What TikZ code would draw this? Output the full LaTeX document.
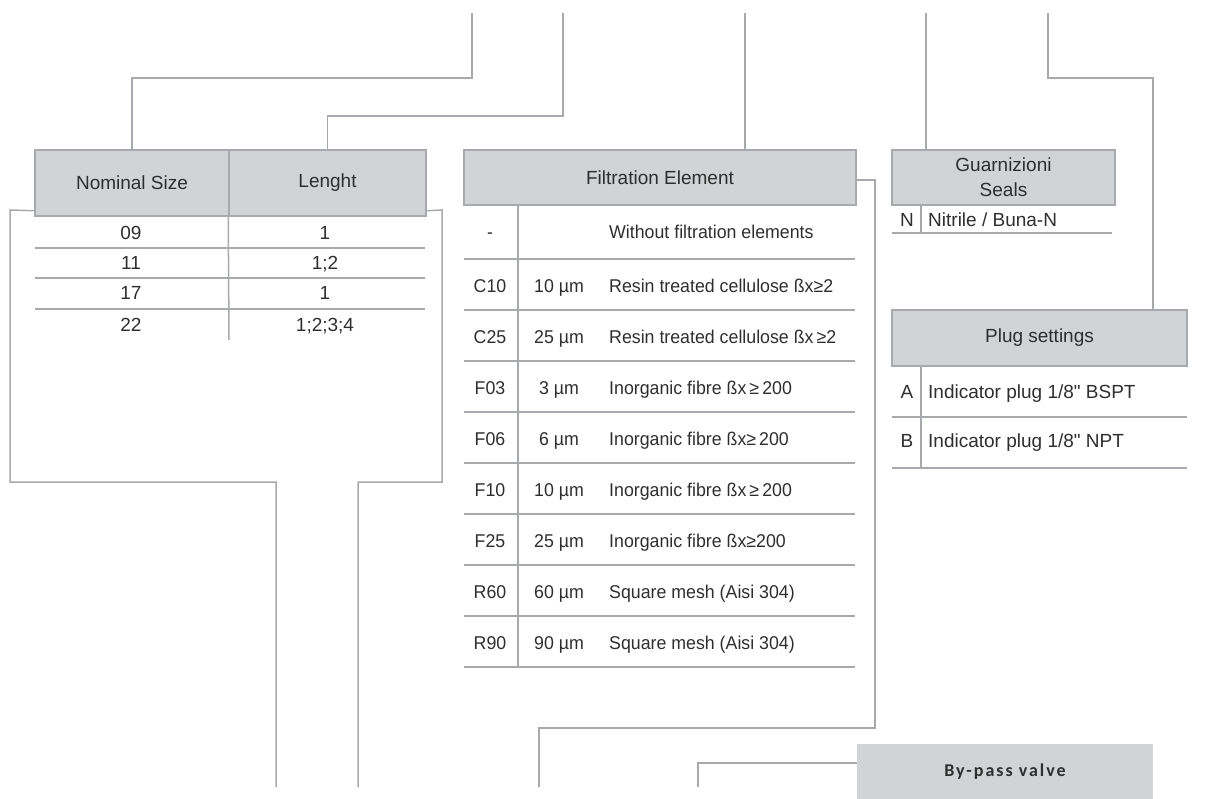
\documentclass[tikz,border=0pt]{standalone}
\usepackage{fontspec}
\setmainfont{Liberation Sans}[Ligatures=TeXOff]
\newfontfamily\rowfont{Liberation Sans}[FakeStretch=0.96,Ligatures=TeXOff]
\newfontfamily\bpfont{Carlito}[LetterSpace=11]
\definecolor{hdrfill}{HTML}{D1D3D4}
\definecolor{rulec}{HTML}{A7A9AC}
\definecolor{txt}{HTML}{2E2E2E}
\begin{document}
\begin{tikzpicture}[x=1pt,y=-1pt,
  rulel/.style={draw=rulec,line width=1.5pt},
  hdr/.style={draw=rulec,fill=hdrfill,line width=1.5pt,inner sep=0pt,text=txt,font=\fontsize{19}{25}\selectfont,align=center},
  cell/.style={inner sep=0pt,text=txt,font=\fontsize{19}{22}\selectfont,text height=13.6pt,text depth=0pt},
  fcell/.style={inner sep=0pt,text=txt,font=\rowfont\fontsize{18.5}{22}\selectfont,text height=13.3pt,text depth=0pt},
]
\useasboundingbox (0,0) rectangle (1210,799);

% ---------------- left table ----------------
\node[hdr,minimum width=194pt,minimum height=66pt] (ns) at (132,183) {Nominal Size};
\node[hdr,minimum width=197pt,minimum height=66pt] (ln) at (327.5,183) {Lenght};
\coordinate (t1) at (472,13);
\coordinate (k1) at (472,78);
\draw[rulel] (ns.north) |- (k1) -- (t1);
\coordinate (t2) at (563,13);
\coordinate (k2) at (563,116);
\draw[rulel] (ln.north) |- (k2) -- (t2);

\coordinate (b1) at (276,787);
\coordinate (c1) at (276,482);
\coordinate (b2) at (358,787);
\coordinate (c2) at (358,482);
\draw[rulel] ([yshift=6pt]ns.south west) -- (10,210) -- (10,482) -- (c1) -- (b1);
\draw[rulel] ([yshift=6pt]ln.south east) -- (442,210) -- (442,482) -- (c2) -- (b2);

\foreach \yy in {248,278,309} \draw[rulel] (35,\yy) -- (425,\yy);
\draw[rulel] (ln.south west) -- (229,340);

\node[cell] (l1a) at (131,233) {09};
\node[cell] (l1b) at (325,233) {1};
\node[cell] (l2a) at (131,263) {11};
\node[cell] (l2b) at (325,263) {1;2};
\node[cell] (l3a) at (131,293) {17};
\node[cell] (l3b) at (325,293) {1};
\node[cell] (l4a) at (131,325) {22};
\node[cell] (l4b) at (325,325) {1;2;3;4};

% ---------------- filtration element ----------------
\node[hdr,minimum width=392pt,minimum height=55pt] (fe) at (660,177.5) {Filtration Element};
\coordinate (t3) at (745,13);
\draw[rulel] (t3) -- (t3 |- fe.north);
\coordinate (b3) at (539,787);
\coordinate (c3) at (539,728);
\draw[rulel] ([yshift=-2.5pt]fe.east) -- (875,180) -- (875,728) -- (c3) -- (b3);
\draw[rulel] (518,205) -- (518,666);
\foreach \yy in {259,310,361,412,463,514,565,616,667} \draw[rulel] (464,\yy) -- (855,\yy);

\node[fcell] (f0a) at (490,232) {-};
\node[fcell,anchor=west] (f0c) at (609,232) {Without filtration elements};
\node[fcell] (f1a) at (490,285.5) {C10};
\node[fcell] (f1b) at (559,285.5) {10 µm};
\node[fcell,anchor=west] (f1c) at (609,285.5) {Resin treated cellulose ßx≥2};
\node[fcell] (f2a) at (490,336.5) {C25};
\node[fcell] (f2b) at (559,336.5) {25 µm};
\node[fcell,anchor=west] (f2c) at (609,336.5) {Resin treated cellulose ßx\,≥2};
\node[fcell] (f3a) at (490,387.5) {F03};
\node[fcell] (f3b) at (559,387.5) {3 µm};
\node[fcell,anchor=west] (f3c) at (609,387.5) {Inorganic fibre ßx\,≥\,200};
\node[fcell] (f4a) at (490,438.5) {F06};
\node[fcell] (f4b) at (559,438.5) {6 µm};
\node[fcell,anchor=west] (f4c) at (609,438.5) {Inorganic fibre ßx≥\,200};
\node[fcell] (f5a) at (490,489.5) {F10};
\node[fcell] (f5b) at (559,489.5) {10 µm};
\node[fcell,anchor=west] (f5c) at (609,489.5) {Inorganic fibre ßx\,≥\,200};
\node[fcell] (f6a) at (490,540.5) {F25};
\node[fcell] (f6b) at (559,540.5) {25 µm};
\node[fcell,anchor=west] (f6c) at (609,540.5) {Inorganic fibre ßx≥200};
\node[fcell] (f7a) at (490,591.5) {R60};
\node[fcell] (f7b) at (559,591.5) {60 µm};
\node[fcell,anchor=west] (f7c) at (609,591.5) {Square mesh (Aisi 304)};
\node[fcell] (f8a) at (490,642.5) {R90};
\node[fcell] (f8b) at (559,642.5) {90 µm};
\node[fcell,anchor=west] (f8c) at (609,642.5) {Square mesh (Aisi 304)};

% ---------------- seals ----------------
\node[hdr,minimum width=223pt,minimum height=55pt] (gs) at (1003.5,177.5) {Guarnizioni\\Seals};
\coordinate (t4) at (926,13);
\draw[rulel] (t4) -- (t4 |- gs.north);
\draw[rulel] (921,205) -- (921,233);
\draw[rulel] (892,233) -- (1112,233);
\node[cell] (gn) at (907,220) {N};
\node[cell,anchor=west] (gnt) at (928,220) {Nitrile / Buna-N};

% ---------------- plug settings ----------------
\node[hdr,minimum width=295pt,minimum height=56pt] (ps) at (1039.5,338) {Plug settings};
\coordinate (t5) at (1048,13);
\coordinate (k5) at (1153,78);
\draw[rulel] (t5) |- (k5) -- (k5 |- ps.north);
\draw[rulel] (921,366) -- (921,468);
\draw[rulel] (892,417) -- (1187,417);
\draw[rulel] (892,468) -- (1187,468);
\node[cell] (pa) at (907,392) {A};
\node[cell,anchor=west] (pat) at (928,392) {Indicator plug 1/8" BSPT};
\node[cell] (pb) at (907,441) {B};
\node[cell,anchor=west] (pbt) at (928,441) {Indicator plug 1/8" NPT};

% ---------------- by-pass valve ----------------
\node[fill=hdrfill,minimum width=296pt,minimum height=55pt,inner sep=0pt,text=txt,font=\bpfont\bfseries\fontsize{18}{20}\selectfont] (bp) at (1005,771.5) {By-pass valve};
\coordinate (b4) at (698,787);
\coordinate (c4) at (698,763);
\draw[rulel] ([yshift=8.5pt]bp.west) -- (c4) -- (b4);
\end{tikzpicture}
\end{document}
